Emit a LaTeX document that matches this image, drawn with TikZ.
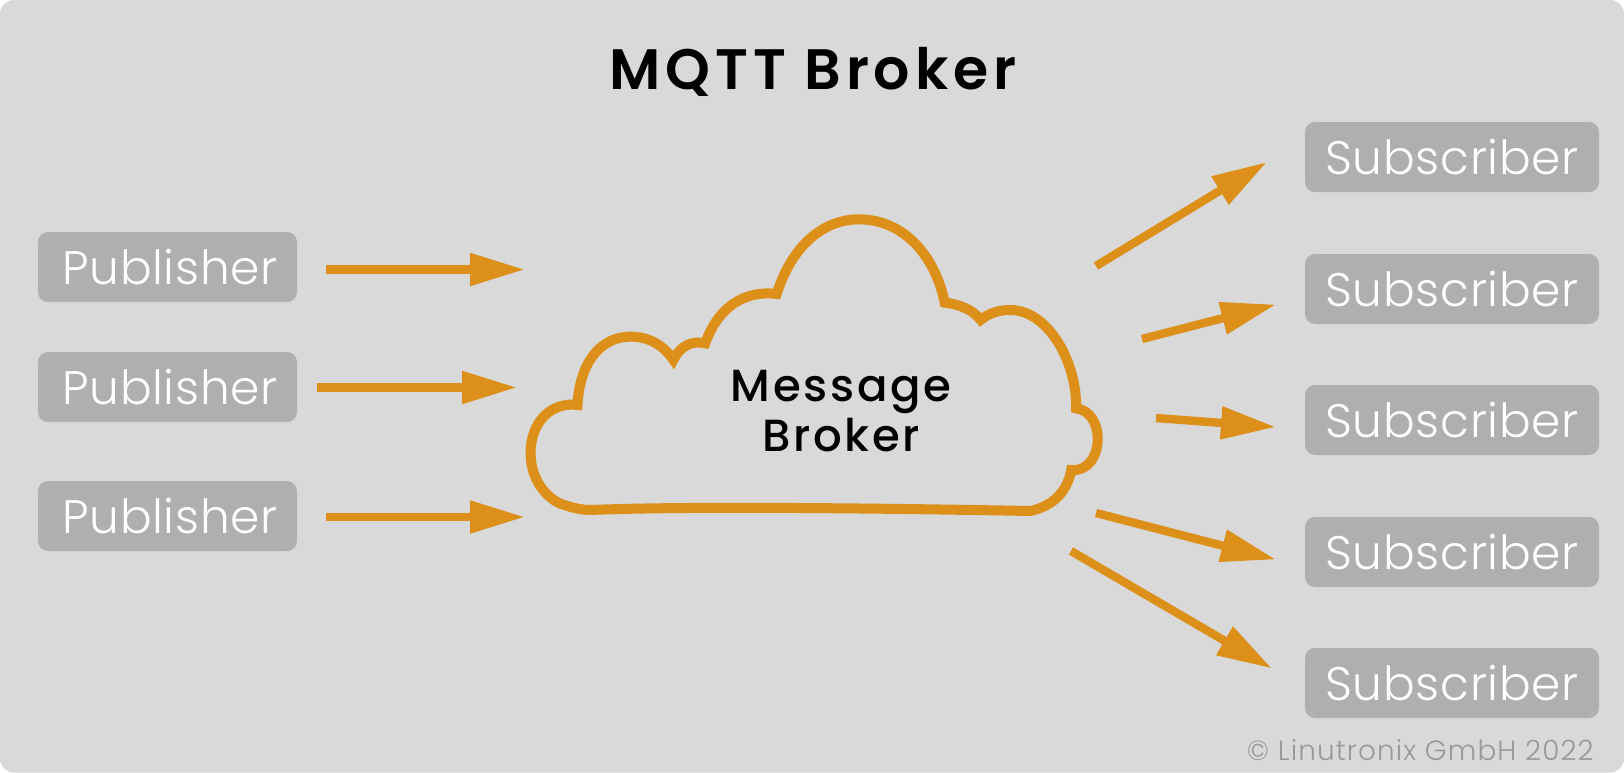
\documentclass[tikz,border=0pt]{standalone}
\usepackage{fontspec}
\setmainfont{Poppins Light}
\newfontfamily\boxfont[LetterSpace=1.5]{Poppins Light}
\newfontfamily\headfont[LetterSpace=8.5]{Poppins SemiBold}
\newfontfamily\cloudfont[LetterSpace=6.0]{Poppins Medium}
\newfontfamily\notefont[LetterSpace=4.0]{Poppins Light}
\usetikzlibrary{arrows.meta}
\definecolor{panelgrey}{HTML}{D9D9D9}
\definecolor{boxgrey}{HTML}{AFAFAF}
\definecolor{flow}{HTML}{DC9019}
\definecolor{notegrey}{HTML}{999999}
\tikzset{
  x=0.5pt,y=-0.5pt,
  client/.style={fill=boxgrey,rounded corners=5pt,text=white,inner sep=0pt,
    minimum height=35pt,font=\boxfont\fontsize{23.5}{27}\selectfont},
  pub/.style={client,minimum width=129.5pt},
  sub/.style={client,minimum width=147pt},
  msgflow/.style={draw=flow,line width=4.2pt,-{Triangle[length=27.5pt,width=15.5pt]}},
}
\begin{document}
\begin{tikzpicture}
\useasboundingbox (0,0) rectangle (1624,772.6);
\fill[panelgrey,rounded corners=7pt] (0,0) rectangle (1624,772.6);

\node[font=\headfont\fontsize{28.5}{32}\selectfont] (title) at (813,72) {MQTT Broker};

% Clients
\node[pub] (p1) at (167.5,267) {\hspace*{2.5pt}Publisher};
\node[pub] (p2) at (167.5,387) {\hspace*{2.5pt}Publisher};
\node[pub] (p3) at (167.5,516) {\hspace*{2.5pt}Publisher};
\node[sub] (s1) at (1452,157) {Subscriber};
\node[sub] (s2) at (1452,289) {Subscriber};
\node[sub] (s3) at (1452,420) {Subscriber};
\node[sub] (s4) at (1452,552) {Subscriber};
\node[sub] (s5) at (1452,683) {Subscriber};

% Broker cloud, outlined lobe by lobe
\begin{scope}[shift={(500,190)},xscale=0.408,yscale=0.3333]
\draw[flow,line width=5pt,miter limit=4]
  (190,645) .. controls (130,635) and (75,690) .. (75,790)
  .. controls (75,870) and (115,925) .. (150,942)
  .. controls (175,952) and (195,960) .. (225,960)
  .. controls (420,950) and (800,952) .. (1300,963)
  .. controls (1350,950) and (1390,910) .. (1400,840)
  .. controls (1440,845) and (1465,800) .. (1465,745)
  .. controls (1465,700) and (1445,660) .. (1412,655)
  .. controls (1415,520) and (1345,360) .. (1250,360)
  .. controls (1225,360) and (1200,368) .. (1178,390)
  .. controls (1160,360) and (1125,342) .. (1090,338)
  .. controls (1065,190) and (985,88) .. (880,88)
  .. controls (790,88) and (715,170) .. (678,312)
  .. controls (600,300) and (535,350) .. (503,460)
  .. controls (470,450) and (440,470) .. (425,510)
  .. controls (400,465) and (365,440) .. (320,440)
  .. controls (245,440) and (195,520) .. (190,645)
  -- cycle;
\end{scope}
\node[font=\cloudfont\fontsize{22.5}{25}\selectfont,align=center,inner sep=0pt] (broker) at (841,411) {Message\\Broker};

% Free ends of the message flows
\coordinate (a1) at (326,269.5); \coordinate (b1) at (525,269.5);
\coordinate (a2) at (317,387.5); \coordinate (b2) at (517,387.5);
\coordinate (a3) at (326,517);   \coordinate (b3) at (525,517);
\coordinate (c1) at (1096,266);  \coordinate (d1) at (1267,162);
\coordinate (c2) at (1142,339);  \coordinate (d2) at (1276,304.5);
\coordinate (c3) at (1156,418);  \coordinate (d3) at (1276,427);
\coordinate (c4) at (1096,513);  \coordinate (d4) at (1276,559.5);
\coordinate (c5) at (1071,551);  \coordinate (d5) at (1272,668.5);
\foreach \i in {1,2,3} \draw[msgflow] (a\i) -- (b\i);
\foreach \i in {1,...,5} \draw[msgflow] (c\i) -- (d\i);

\node[anchor=east,text=notegrey,inner sep=0pt,font=\notefont\fontsize{13.95}{16}\selectfont] (note) at (1594,750) {© Linutronix GmbH 2022};
\end{tikzpicture}
\end{document}
